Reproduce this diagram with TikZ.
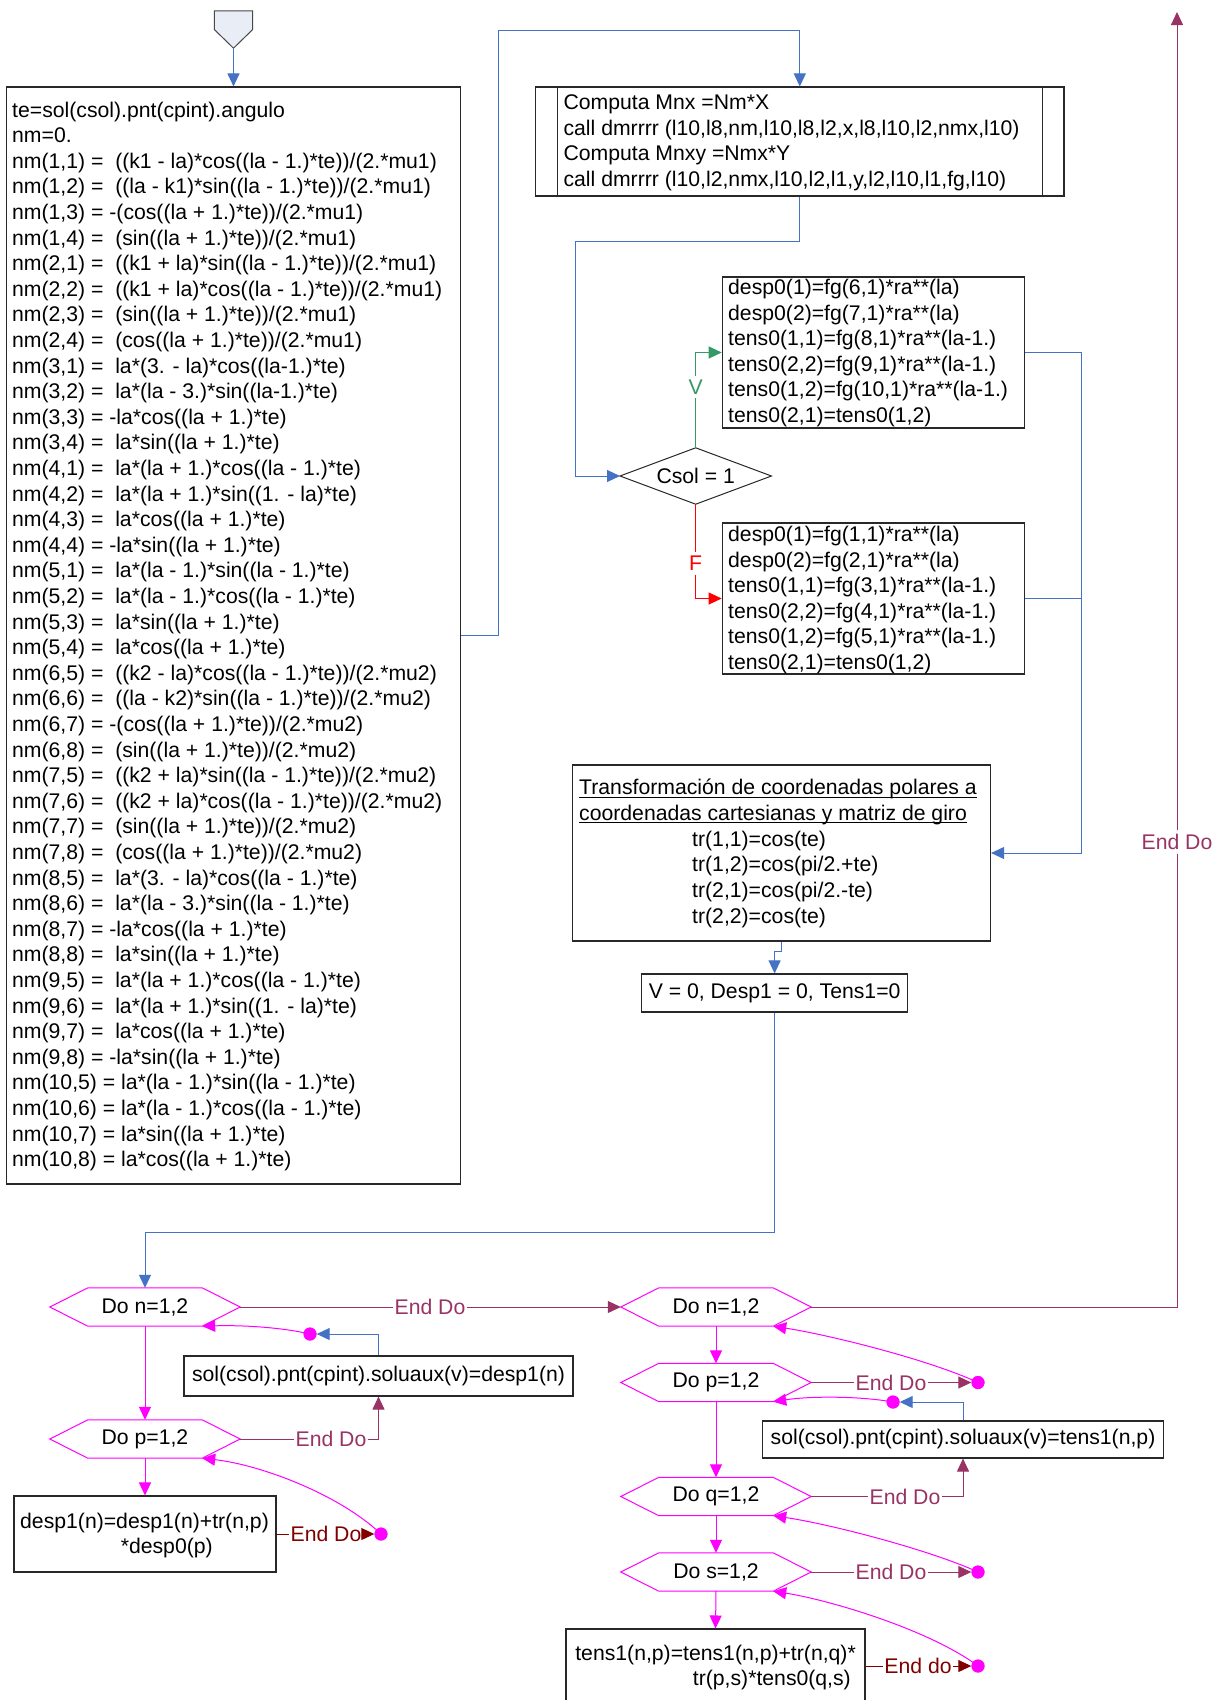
\documentclass[tikz,border=0pt]{standalone}
\usepackage{fontspec}
\setmainfont{Liberation Sans}
\usetikzlibrary{arrows.meta}
\definecolor{cblue}{RGB}{68,114,196}
\definecolor{cmag}{RGB}{255,0,255}
\definecolor{cmar}{RGB}{153,51,102}
\definecolor{cdred}{RGB}{128,0,0}
\definecolor{cgreen}{RGB}{51,153,102}
\definecolor{cred}{RGB}{255,0,0}
\definecolor{cbox}{RGB}{40,40,40}
\definecolor{cpent}{RGB}{233,237,245}
\newcommand\hexout[1]{\draw[hexline] (#1.west) -- ([xshift=38pt]#1.north west) -- ([xshift=-38pt]#1.north east) -- (#1.east) -- ([xshift=-38pt]#1.south east) -- ([xshift=38pt]#1.south west) -- cycle;}
\tikzset{
  every node/.style={font=\fontsize{21.2}{25.6}\selectfont},
  arrtip/.style={-{Triangle[length=13pt,width=12pt]}},
  bluel/.style={draw=cblue,line width=1pt},
  bluea/.style={bluel,arrtip},
  magl/.style={draw=cmag,line width=1pt},
  maga/.style={magl,arrtip},
  marl/.style={draw=cmar,line width=1pt},
  mara/.style={marl,arrtip},
  drl/.style={draw=cdred,line width=1pt},
  dra/.style={drl,arrtip},
  boxst/.style={draw=cbox,line width=1.1pt,inner sep=0pt},
  txt/.style={inner sep=0pt},
  lab/.style={inner xsep=1pt,inner ysep=4pt},
  dotst/.style={circle,fill=cmag,inner sep=0pt,minimum size=13pt},
  hexst/.style={inner sep=0pt,minimum width=190pt,minimum height=38pt},
  hexline/.style={draw=cmag,line width=1pt},
}
\begin{document}
\begin{tikzpicture}[x=1pt,y=-1pt]
\useasboundingbox[fill=white] (0,0) rectangle (1226,1700);

% start connector
\node[inner sep=0pt,minimum width=38pt,minimum height=37pt] (start) at (233.5,29.5) {};
\draw[fill=cpent,draw=cbox!85,line width=1pt] (start.north west) -- (start.north east) -- (start.east) -- (start.south) -- (start.west) -- cycle;

% big box
\node[boxst,minimum width=454pt,minimum height=1097pt] (big) at (233.5,635.5) {};
\draw[bluea] (start.south) -- (big.north);
\foreach \ltxt [count=\i] in {
{te=sol(csol).pnt(cpint).angulo},
{nm=0.},
{nm(1,1) =\ \ ((k1 - la)*cos((la - 1.)*te))/(2.*mu1)},
{nm(1,2) =\ \ ((la - k1)*sin((la - 1.)*te))/(2.*mu1)},
{nm(1,3) = -(cos((la + 1.)*te))/(2.*mu1)},
{nm(1,4) =\ \ (sin((la + 1.)*te))/(2.*mu1)},
{nm(2,1) =\ \ ((k1 + la)*sin((la - 1.)*te))/(2.*mu1)},
{nm(2,2) =\ \ ((k1 + la)*cos((la - 1.)*te))/(2.*mu1)},
{nm(2,3) =\ \ (sin((la + 1.)*te))/(2.*mu1)},
{nm(2,4) =\ \ (cos((la + 1.)*te))/(2.*mu1)},
{nm(3,1) =\ \ la*(3. - la)*cos((la-1.)*te)},
{nm(3,2) =\ \ la*(la - 3.)*sin((la-1.)*te)},
{nm(3,3) = -la*cos((la + 1.)*te)},
{nm(3,4) =\ \ la*sin((la + 1.)*te)},
{nm(4,1) =\ \ la*(la + 1.)*cos((la - 1.)*te)},
{nm(4,2) =\ \ la*(la + 1.)*sin((1. - la)*te)},
{nm(4,3) =\ \ la*cos((la + 1.)*te)},
{nm(4,4) = -la*sin((la + 1.)*te)},
{nm(5,1) =\ \ la*(la - 1.)*sin((la - 1.)*te)},
{nm(5,2) =\ \ la*(la - 1.)*cos((la - 1.)*te)},
{nm(5,3) =\ \ la*sin((la + 1.)*te)},
{nm(5,4) =\ \ la*cos((la + 1.)*te)},
{nm(6,5) =\ \ ((k2 - la)*cos((la - 1.)*te))/(2.*mu2)},
{nm(6,6) =\ \ ((la - k2)*sin((la - 1.)*te))/(2.*mu2)},
{nm(6,7) = -(cos((la + 1.)*te))/(2.*mu2)},
{nm(6,8) =\ \ (sin((la + 1.)*te))/(2.*mu2)},
{nm(7,5) =\ \ ((k2 + la)*sin((la - 1.)*te))/(2.*mu2)},
{nm(7,6) =\ \ ((k2 + la)*cos((la - 1.)*te))/(2.*mu2)},
{nm(7,7) =\ \ (sin((la + 1.)*te))/(2.*mu2)},
{nm(7,8) =\ \ (cos((la + 1.)*te))/(2.*mu2)},
{nm(8,5) =\ \ la*(3. - la)*cos((la - 1.)*te)},
{nm(8,6) =\ \ la*(la - 3.)*sin((la - 1.)*te)},
{nm(8,7) = -la*cos((la + 1.)*te)},
{nm(8,8) =\ \ la*sin((la + 1.)*te)},
{nm(9,5) =\ \ la*(la + 1.)*cos((la - 1.)*te)},
{nm(9,6) =\ \ la*(la + 1.)*sin((1. - la)*te)},
{nm(9,7) =\ \ la*cos((la + 1.)*te)},
{nm(9,8) = -la*sin((la + 1.)*te)},
{nm(10,5) = la*(la - 1.)*sin((la - 1.)*te)},
{nm(10,6) = la*(la - 1.)*cos((la - 1.)*te)},
{nm(10,7) = la*sin((la + 1.)*te)},
{nm(10,8) = la*cos((la + 1.)*te)}}
  \node[txt,anchor=base west] (L\i) at (12,{117+25.6*(\i-1)}) {\ltxt};

% computa box
\node[boxst,minimum width=528.4pt,minimum height=109pt] (comp) at (799.8,141.5) {};
\draw[draw=cbox,line width=1.1pt] ([xshift=22.4pt]comp.north west) -- ([xshift=22.4pt]comp.south west);
\draw[draw=cbox,line width=1.1pt] ([xshift=-22.4pt]comp.north east) -- ([xshift=-22.4pt]comp.south east);
\node[txt,anchor=base west] (ct1) at (563.4,109.5) {Computa Mnx =Nm*X};
\node[txt,anchor=base west] (ct2) at (563.4,135.1) {call dmrrrr (l10,l8,nm,l10,l8,l2,x,l8,l10,l2,nmx,l10)};
\node[txt,anchor=base west] (ct3) at (563.4,160.7) {Computa Mnxy =Nmx*Y};
\node[txt,anchor=base west] (ct4) at (563.4,186.3) {call dmrrrr (l10,l2,nmx,l10,l2,l1,y,l2,l10,l1,fg,l10)};
\coordinate (c1) at (498,30);
\draw[bluea] (big.east) -| (c1) -| (comp.north);

% decision
\node[inner sep=0pt,minimum width=151pt,minimum height=56pt] (dia) at (695.7,476) {Csol = 1};
\draw[draw=cbox,line width=1pt] (dia.west) -- (dia.north) -- (dia.east) -- (dia.south) -- cycle;
\coordinate (c2) at (575,241);
\draw[bluea] (comp.south) |- (c2) |- (dia.west);

% desp boxes
\node[boxst,minimum width=302.3pt,minimum height=151pt] (td) at (873.4,352.5) {};
\node[boxst,minimum width=302.3pt,minimum height=151pt] (bd) at (873.4,598.5) {};
\foreach \ltxt [count=\i] in {{desp0(1)=fg(6,1)*ra**(la)},{desp0(2)=fg(7,1)*ra**(la)},{tens0(1,1)=fg(8,1)*ra**(la-1.)},{tens0(2,2)=fg(9,1)*ra**(la-1.)},{tens0(1,2)=fg(10,1)*ra**(la-1.)},{tens0(2,1)=tens0(1,2)}}
  \node[txt,anchor=base west] (T\i) at (728,{294.5+25.5*(\i-1)}) {\ltxt};
\foreach \ltxt [count=\i] in {{desp0(1)=fg(1,1)*ra**(la)},{desp0(2)=fg(2,1)*ra**(la)},{tens0(1,1)=fg(3,1)*ra**(la-1.)},{tens0(2,2)=fg(4,1)*ra**(la-1.)},{tens0(1,2)=fg(5,1)*ra**(la-1.)},{tens0(2,1)=tens0(1,2)}}
  \node[txt,anchor=base west] (B\i) at (728,{541.5+25.5*(\i-1)}) {\ltxt};

\node[lab,text=cgreen] (lv) at (695.7,387) {V};
\draw[draw=cgreen,line width=1pt] (dia.north) -- (lv.south);
\draw[draw=cgreen,line width=1pt,arrtip] (lv.north) |- (td.west);
\node[lab,text=cred] (lf) at (695.7,563) {F};
\draw[draw=cred,line width=1pt] (dia.south) -- (lf.north);
\draw[draw=cred,line width=1pt,arrtip] (lf.south) |- (bd.west);

% transformation box
\node[boxst,minimum width=417.7pt,minimum height=176pt] (tr) at (781.7,853) {};
\node[txt,anchor=base west] (R1) at (579,794.5) {Transformación de coordenadas polares a};
\node[txt,anchor=base west] (R2) at (579,820.3) {coordenadas cartesianas y matriz de giro};
\draw[line width=0.9pt] ([yshift=-2.5pt]R1.base west) -- ([yshift=-2.5pt]R1.base east);
\draw[line width=0.9pt] ([yshift=-2.5pt]R2.base west) -- ([yshift=-2.5pt]R2.base east);
\node[txt,anchor=base west] (R3) at (692,846.1) {tr(1,1)=cos(te)};
\node[txt,anchor=base west] (R4) at (692,871.9) {tr(1,2)=cos(pi/2.+te)};
\node[txt,anchor=base west] (R5) at (692,897.7) {tr(2,1)=cos(pi/2.-te)};
\node[txt,anchor=base west] (R6) at (692,923.5) {tr(2,2)=cos(te)};
\coordinate (c3) at (1081,853);
\draw[bluel] (bd.east) -| (c3);
\draw[bluea] (td.east) -| (c3) -- (tr.east);

% V box
\node[boxst,minimum width=266.4pt,minimum height=38pt] (vb) at (774.6,993) {V = 0, Desp1 = 0, Tens1=0};
\draw[bluea] (tr.south) -- ++(0,10) -| (vb.north);

% hexagons
\node[hexst] (hn1) at (145,1307) {Do n=1,2};
\node[hexst] (hp1) at (145,1439) {Do p=1,2};
\node[hexst] (hn2) at (716,1307) {Do n=1,2};
\node[hexst] (hp2) at (716,1382.5) {Do p=1,2};
\node[hexst] (hq2) at (716,1496.5) {Do q=1,2};
\node[hexst] (hs2) at (716,1572) {Do s=1,2};
\hexout{hn1}\hexout{hp1}\hexout{hn2}\hexout{hp2}\hexout{hq2}\hexout{hs2}
\coordinate (c4) at (145,1232);
\draw[bluea] (vb.south) |- (c4) -- (hn1.north);

% other boxes
\node[boxst,minimum width=389pt,minimum height=40pt] (sol1) at (378.5,1376) {sol(csol).pnt(cpint).soluaux(v)=desp1(n)};
\node[boxst,minimum width=262pt,minimum height=76pt] (desp1) at (145,1534) {};
\node[txt,anchor=base west] (D1) at (20,1528.5) {desp1(n)=desp1(n)+tr(n,p)};
\node[txt,anchor=base west] (D2) at (120.6,1553.5) {*desp0(p)};
\node[boxst,minimum width=401pt,minimum height=37pt] (sol2) at (963,1439.5) {sol(csol).pnt(cpint).soluaux(v)=tens1(n,p)};
\node[boxst,minimum width=299pt,minimum height=91pt] (tens1) at (715.5,1674.5) {};
\node[txt,anchor=base east] (S1) at (856,1660) {tens1(n,p)=tens1(n,p)+tr(n,q)*};
\node[txt,anchor=base east] (S2) at (851,1685) {tr(p,s)*tens0(q,s)};

% labels
\node[lab,text=cmar] (E1) at (430,1307) {End Do};
\node[lab,text=cmar] (E2) at (1177,842) {End Do};
\node[lab,text=cmar] (E3) at (331,1439) {End Do};
\node[lab,text=cdred] (E4) at (326,1534) {End Do};
\node[lab,text=cmar] (E5) at (891,1382.5) {End Do};
\node[lab,text=cmar] (E6) at (905,1496.5) {End Do};
\node[lab,text=cmar] (E7) at (891,1572) {End Do};
\node[lab,text=cdred] (E8) at (918,1666) {End do};
\coordinate (topend) at (1177,12);

% dots
\node[dotst] (d1) at (381,1534) {};
\node[dotst] (d2) at (310,1334) {};
\node[dotst] (d3) at (978,1382.5) {};
\node[dotst] (d4) at (893,1402) {};
\node[dotst] (d5) at (978,1572) {};
\node[dotst] (d6) at (978,1666) {};

% magenta vertical arrows
\draw[maga] (hn1.south) -- (hp1.north);
\draw[maga] (hp1.south) -- (desp1.north);
\draw[maga] (hn2.south) -- (hp2.north);
\draw[maga] (hp2.south) -- (hq2.north);
\draw[maga] (hq2.south) -- (hs2.north);
\draw[maga] (hs2.south) -- (tens1.north);

% End Do connectors
\draw[marl] (hn1.east) -- (E1.west);
\draw[mara] (E1.east) -- (hn2.west);
\draw[marl] (hn2.east) -| (E2.south);
\draw[mara] (E2.north) -- (topend);
\draw[marl] (hp1.east) -- (E3.west);
\draw[mara] (E3.east) -| (sol1.south);
\draw[drl] (desp1.east) -- (E4.west);
\draw[dra] (E4.east) -- (d1.west);
\draw[marl] (hp2.east) -- (E5.west);
\draw[mara] (E5.east) -- (d3.west);
\draw[marl] (hq2.east) -- (E6.west);
\draw[mara] (E6.east) -| (sol2.south);
\draw[marl] (hs2.east) -- (E7.west);
\draw[mara] (E7.east) -- (d5.west);
\draw[drl] (tens1.east |- E8.west) -- (E8.west);
\draw[dra] (E8.east) -- (d6.west);

% blue returns
\draw[bluea] (sol1.north) |- (d2.east);
\draw[bluea] (sol2.north) |- (d4.east);

% magenta curves
\coordinate (hn1br) at ([xshift=-38pt]hn1.south east);
\coordinate (hp1br) at ([xshift=-38pt]hp1.south east);
\coordinate (hn2br) at ([xshift=-38pt]hn2.south east);
\coordinate (hp2br) at ([xshift=-38pt]hp2.south east);
\coordinate (hq2br) at ([xshift=-38pt]hq2.south east);
\coordinate (hs2br) at ([xshift=-38pt]hs2.south east);
\draw[maga] (d2.center) .. controls (280,1327) and (240,1325) .. (hn1br);
\draw[maga] (d1.center) .. controls (340,1495) and (262,1465) .. (hp1br);
\draw[maga] (d3.center) .. controls (930,1360) and (830,1335) .. (hn2br);
\draw[maga] (d4.center) .. controls (860,1396) and (810,1396) .. (hp2br);
\draw[maga] (d5.center) .. controls (930,1550) and (830,1524) .. (hq2br);
\draw[maga] (d6.center) .. controls (930,1630) and (830,1600) .. (hs2br);
\node[dotst] (d1b) at (d1) {};
\node[dotst] (d2b) at (d2) {};
\node[dotst] (d3b) at (d3) {};
\node[dotst] (d4b) at (d4) {};
\node[dotst] (d5b) at (d5) {};
\node[dotst] (d6b) at (d6) {};
\end{tikzpicture}
\end{document}
